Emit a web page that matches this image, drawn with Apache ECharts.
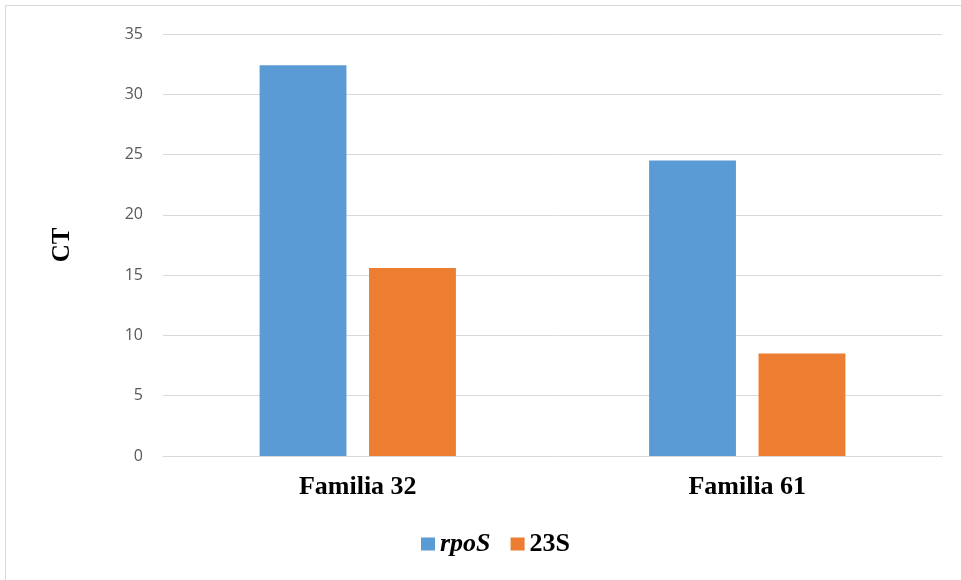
<!DOCTYPE html>
<html>
<head>
<meta charset="utf-8">
<script src="https://cdn.jsdelivr.net/npm/echarts@6/dist/echarts.min.js"></script>
<style>
  html, body { margin: 0; padding: 0; background: #fff; }
  #chart { width: 961px; height: 580px; }
</style>
</head>
<body>
<div id="chart"></div>
<script>
// CT values per family and target gene
const categories = ['Familia 32', 'Familia 61'];
const rpoS = [32.4, 24.5];
const s23 = [15.6, 8.5];
const yTicks = [0, 5, 10, 15, 20, 25, 30, 35];

const chart = echarts.init(document.getElementById('chart'), null, { renderer: 'canvas' });

chart.setOption({
  backgroundColor: '#ffffff',
  animation: false,
  graphic: [{
    type: 'rect',
    shape: { x: 5.5, y: 5.5, width: 1000, height: 600 },
    style: { fill: 'none', stroke: '#d9d9d9', lineWidth: 1 },
    silent: true
  }],
  grid: { left: 163, right: 19, top: 34, bottom: 124 },
  xAxis: {
    type: 'category',
    data: categories,
    axisLine: { lineStyle: { color: '#d9d9d9' } },
    axisTick: { show: false },
    axisLabel: {
      color: '#000',
      fontFamily: 'Liberation Serif',
      fontWeight: 'bold',
      fontSize: 26,
      margin: 18
    }
  },
  yAxis: {
    type: 'value',
    min: yTicks[0],
    max: yTicks[yTicks.length - 1],
    interval: 5,
    name: 'CT',
    nameLocation: 'middle',
    nameGap: 88,
    nameRotate: 90,
    nameTextStyle: {
      color: '#000',
      fontFamily: 'Liberation Serif',
      fontWeight: 'bold',
      fontSize: 25
    },
    axisLine: { show: false },
    axisTick: { show: false },
    axisLabel: {
      color: '#595959',
      fontFamily: 'Open Sans',
      fontSize: 16,
      margin: 20
    },
    splitLine: { lineStyle: { color: '#d9d9d9', width: 1 } }
  },
  legend: {
    top: 526,
    left: 416,
    itemWidth: 14,
    itemHeight: 13,
    itemGap: 20,
    icon: 'rect',
    formatter: function (name) {
      return name === 'rpoS' ? '{i|' + name + '}' : '{b|' + name + '}';
    },
    textStyle: {
      rich: {
        i: { fontFamily: 'Liberation Serif', fontStyle: 'italic', fontWeight: 'bold', fontSize: 26, color: '#000' },
        b: { fontFamily: 'Liberation Serif', fontWeight: 'bold', fontSize: 26, color: '#000' }
      }
    }
  },
  series: [
    {
      name: 'rpoS',
      type: 'bar',
      data: rpoS,
      barWidth: '22.3%',
      barGap: '26%',
      itemStyle: { color: '#5b9bd5' }
    },
    {
      name: '23S',
      type: 'bar',
      data: s23,
      barWidth: '22.3%',
      itemStyle: { color: '#ed7d31' }
    }
  ]
});
</script>
</body>
</html>
